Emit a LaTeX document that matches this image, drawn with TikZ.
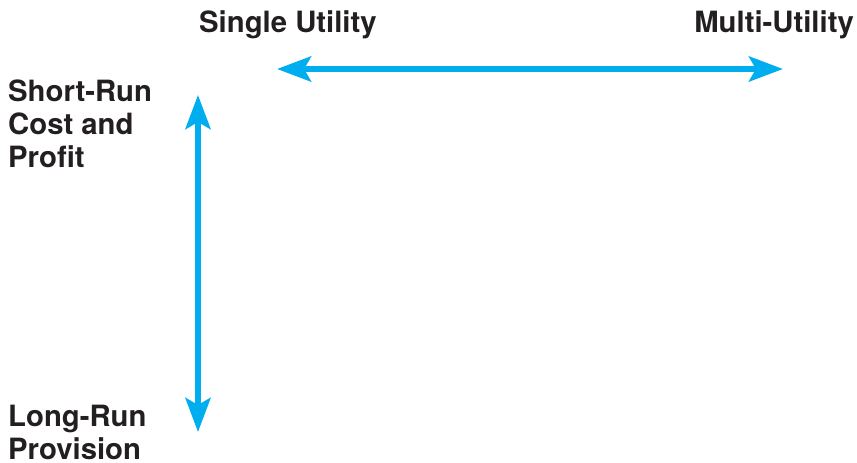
\documentclass[tikz,border=0pt]{standalone}
\usepackage{fontspec}
\setmainfont{TeX Gyre Heros}
\usetikzlibrary{arrows.meta}
\definecolor{arrowblue}{HTML}{00AEEF}
\definecolor{txt}{HTML}{231F20}
\tikzset{
  label text/.style={font=\bfseries\fontsize{29.3}{33}\selectfont, text=txt, inner sep=0pt, align=left},
  axis arrow/.style={draw=arrowblue, line width=6pt, {Stealth[length=34pt,width=25pt,inset=7pt]}-{Stealth[length=34pt,width=25pt,inset=7pt]}}
}
\begin{document}
\begin{tikzpicture}[x=1pt,y=-1pt]
\useasboundingbox (0,0) rectangle (857,463);
\node[label text, anchor=base west] (single) at (199,32) {Single Utility};
\node[label text, anchor=base east] (multi) at (854,32) {Multi-Utility};
\node[label text, anchor=north west] (short) at (8,80) {Short-Run\\Cost and\\Profit};
\node[label text, anchor=north west] (long) at (8,405) {Long-Run\\Provision};
\coordinate (hl) at (277,69);
\coordinate (hr) at (783,69);
\coordinate (vt) at (198,95);
\coordinate (vb) at (198,432);
\draw[axis arrow] (hl) -- (hr);
\draw[axis arrow] (vt) -- (vb);
\end{tikzpicture}
\end{document}
